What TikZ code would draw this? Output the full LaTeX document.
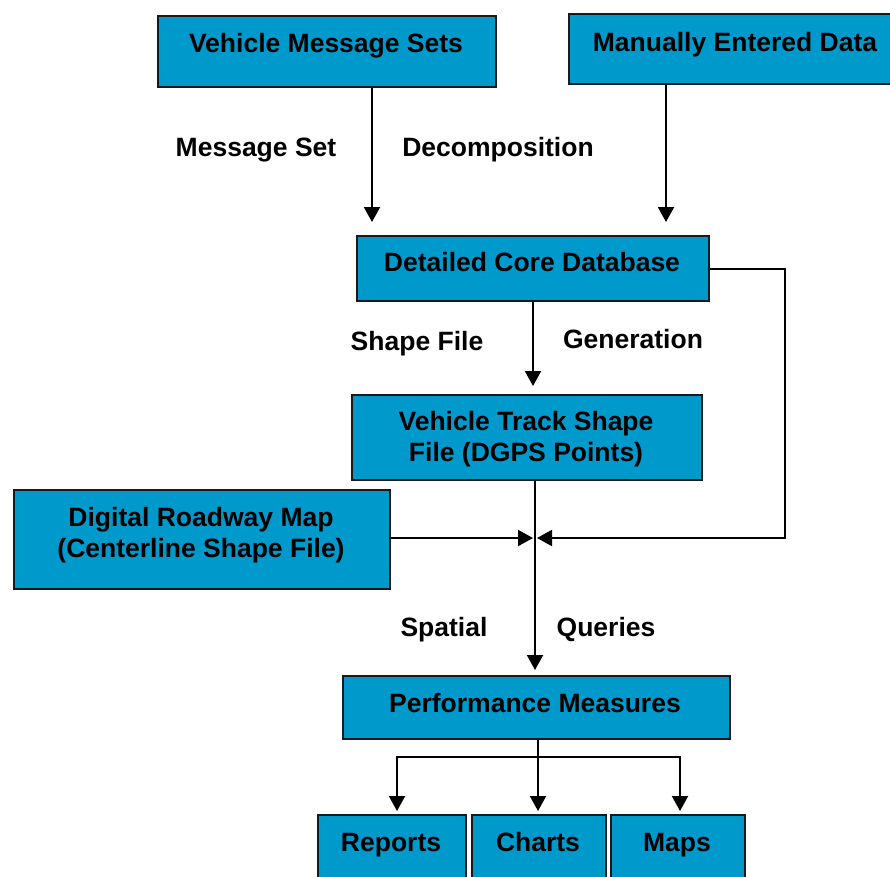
\documentclass[tikz,border=0pt]{standalone}
\usepackage{fontspec}
\setmainfont{Liberation Sans}
\usetikzlibrary{arrows.meta}
\definecolor{boxblue}{RGB}{0,153,204}
\definecolor{edge}{RGB}{25,25,25}
\begin{document}
\begin{tikzpicture}[x=1pt,y=-1pt,
  box/.style={draw=edge, line width=1.6pt, fill=boxblue, inner sep=0pt, anchor=north west},
  txt/.style={font=\fontsize{26.5}{31.5}\selectfont\bfseries, align=center, inner sep=0pt},
  one/.style={txt, text height=19pt, text depth=0pt},
  conn/.style={line width=2pt, line join=miter, -{Triangle[length=15pt,width=16pt]}},
  plain/.style={line width=2pt}]
\useasboundingbox (0,0) rectangle (890,876);
\clip (0,0) rectangle (890,876);
% boxes
\node[box, minimum width=338, minimum height=71] (vms) at (157,15) {};
\node[box, minimum width=334, minimum height=70] (med) at (568,13) {};
\node[box, minimum width=352, minimum height=65] (dcd) at (356,235) {};
\node[box, minimum width=350, minimum height=85] (vts) at (351,394) {};
\node[box, minimum width=376, minimum height=99] (drm) at (13,489) {};
\node[box, minimum width=387, minimum height=63] (pm) at (342,675) {};
\node[box, minimum width=148, minimum height=80] (rep) at (317,814) {};
\node[box, minimum width=134, minimum height=80] (cha) at (471,814) {};
\node[box, minimum width=134, minimum height=80] (map) at (610,814) {};
% texts
\node[one] (tvms) at (326,43) {Vehicle Message Sets};
\node[one] (tmed) at (735,42) {Manually Entered Data};
\node[one] (tdcd) at (532,262) {Detailed Core Database};
\node[txt] (tvts) at (526,439) {Vehicle Track Shape\\File (DGPS Points)};
\node[txt] (tdrm) at (201,535) {Digital Roadway Map\\(Centerline Shape File)};
\node[one] (tpm) at (535,703) {Performance Measures};
\node[one] (trep) at (391,842) {Reports};
\node[one] (tcha) at (538,842) {Charts};
\node[one] (tmap) at (677,842) {Maps};
% edge labels
\node[one] (l1) at (256,147) {Message Set};
\node[one] (l2) at (498,147) {Decomposition};
\node[one] (l3) at (417,341) {Shape File};
\node[one] (l4) at (633,339) {Generation};
\node[one] (l5) at (444,627) {Spatial};
\node[one] (l6) at (606,627) {Queries};
% junction points
\coordinate (j) at (535,538);
\coordinate (jl) at (533,538);
\coordinate (jr) at (537,538);
\coordinate (rc) at (785,269);
\coordinate (rb) at (785,538);
\coordinate (split) at (538,757);
% connectors
\draw[conn] (vms.south -| 372,0) -- ([yshift=13pt]dcd.north -| 372,0);
\draw[conn] (med.south -| 666,0) -- ([yshift=13pt]dcd.north -| 666,0);
\draw[conn] (dcd.south -| 533,0) -- ([yshift=8pt]vts.north -| 533,0);
\draw[conn] (dcd.east |- rc) -- (rc) -- (rb) -- (jr);
\draw[conn] (drm.east |- jl) -- (jl);
\draw[conn] (vts.south -| j) -- ([yshift=5pt]pm.north -| j);
\draw[conn] (pm.south -| split) -- ([yshift=3pt]cha.north -| split);
\draw[conn] (split) -| ([yshift=3pt]rep.north -| 397,0);
\draw[conn] (split) -| ([yshift=3pt]map.north -| 680,0);
\end{tikzpicture}
\end{document}
